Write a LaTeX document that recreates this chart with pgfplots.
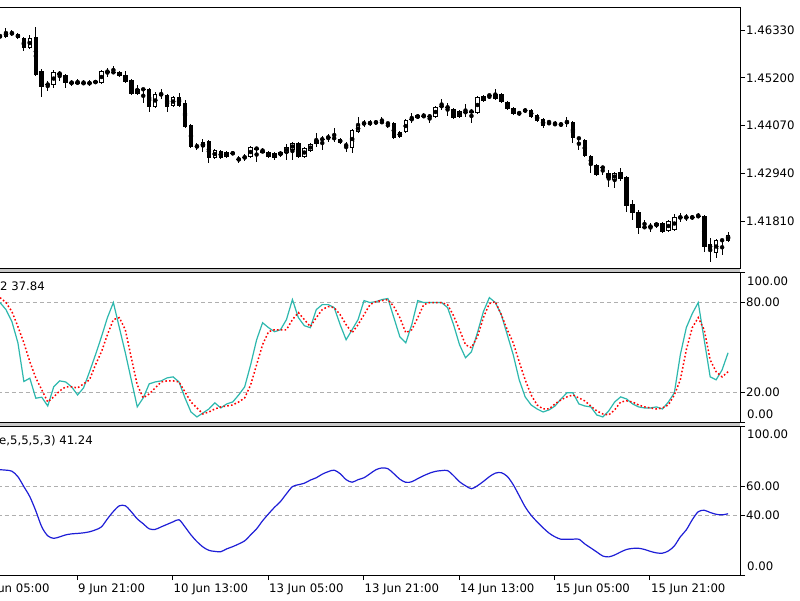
\documentclass[border=0pt]{standalone}
\usepackage{fontspec}
\setmainfont{DejaVu Sans}
\usepackage{pgfplots}
\usepackage{pgfplotstable}
\pgfplotsset{compat=1.18}

\definecolor{stochmain}{RGB}{45,184,174}
\definecolor{oscblue}{RGB}{30,30,215}
\definecolor{levelgray}{RGB}{175,175,175}
\definecolor{sepgray}{RGB}{200,200,200}
\newcommand{\lblfont}{\fontsize{11.7pt}{13pt}\selectfont}

% H1 bars: index, open, high, low, close
\pgfplotstableread{
j O H L C
0 1.46214 1.46285 1.46096 1.46143
1 1.46167 1.46380 1.46143 1.46285
2 1.46261 1.46332 1.46191 1.46238
3 1.46238 1.46261 1.46120 1.46143
4 1.46143 1.46167 1.45836 1.45907
5 1.45907 1.46214 1.45883 1.46143
6 1.46167 1.46403 1.45245 1.45268
7 1.45363 1.45410 1.44748 1.44985
8 1.45056 1.45127 1.44890 1.45032
9 1.45032 1.45387 1.44961 1.45339
10 1.45316 1.45363 1.45127 1.45292
11 1.45268 1.45292 1.44961 1.45079
12 1.45103 1.45150 1.45008 1.45079
13 1.45091 1.45174 1.45032 1.45079
14 1.45079 1.45150 1.45032 1.45068
15 1.45079 1.45150 1.45008 1.45068
16 1.45127 1.45150 1.45056 1.45079
17 1.45079 1.45387 1.45056 1.45363
18 1.45363 1.45434 1.45221 1.45339
19 1.45339 1.45481 1.45292 1.45328
20 1.45339 1.45363 1.45221 1.45245
21 1.45268 1.45363 1.45079 1.45103
22 1.45150 1.45174 1.44796 1.44819
23 1.44819 1.45032 1.44796 1.44938
24 1.44938 1.44949 1.44607 1.44926
25 1.44938 1.44961 1.44394 1.44512
26 1.44512 1.44867 1.44488 1.44819
27 1.44819 1.44938 1.44701 1.44796
28 1.44796 1.44819 1.44394 1.44512
29 1.44536 1.44772 1.44512 1.44748
30 1.44748 1.44843 1.44512 1.44536
31 1.44607 1.44678 1.44016 1.44039
32 1.44087 1.44110 1.43543 1.43566
33 1.43590 1.43661 1.43496 1.43578
34 1.43566 1.43756 1.43448 1.43685
35 1.43708 1.43732 1.43188 1.43306
36 1.43306 1.43519 1.43283 1.43496
37 1.43472 1.43496 1.43283 1.43306
38 1.43330 1.43472 1.43306 1.43448
39 1.43425 1.43436 1.43401 1.43413
40 1.43283 1.43354 1.43188 1.43271
41 1.43330 1.43401 1.43236 1.43318
42 1.43330 1.43590 1.43306 1.43566
43 1.43543 1.43566 1.43212 1.43519
44 1.43472 1.43543 1.43425 1.43448
45 1.43448 1.43472 1.43306 1.43330
46 1.43425 1.43448 1.43259 1.43306
47 1.43377 1.43472 1.43330 1.43448
48 1.43425 1.43637 1.43259 1.43566
49 1.43496 1.43685 1.43259 1.43661
50 1.43661 1.43685 1.43306 1.43330
51 1.43330 1.43566 1.43306 1.43543
52 1.43472 1.43661 1.43448 1.43637
53 1.43637 1.43897 1.43566 1.43732
54 1.43756 1.43826 1.43496 1.43744
55 1.43803 1.43874 1.43685 1.43791
56 1.43779 1.44016 1.43685 1.43767
57 1.43756 1.43779 1.43637 1.43661
58 1.43614 1.43685 1.43448 1.43602
59 1.43543 1.43992 1.43425 1.43968
60 1.43921 1.44276 1.43897 1.44087
61 1.44134 1.44205 1.44039 1.44122
62 1.44134 1.44205 1.44063 1.44122
63 1.44157 1.44205 1.44087 1.44146
64 1.44157 1.44276 1.44110 1.44146
65 1.44134 1.44146 1.44016 1.44122
66 1.44134 1.44157 1.43756 1.43779
67 1.43803 1.43945 1.43779 1.43921
68 1.43921 1.44228 1.43897 1.44205
69 1.44228 1.44370 1.44134 1.44217
70 1.44252 1.44347 1.44228 1.44323
71 1.44299 1.44370 1.44252 1.44288
72 1.44299 1.44347 1.44134 1.44288
73 1.44276 1.44536 1.44252 1.44512
74 1.44536 1.44701 1.44441 1.44524
75 1.44512 1.44607 1.44299 1.44500
76 1.44465 1.44488 1.44228 1.44252
77 1.44276 1.44441 1.44252 1.44418
78 1.44394 1.44583 1.44276 1.44382
79 1.44418 1.44465 1.44134 1.44394
80 1.44370 1.44772 1.44347 1.44748
81 1.44772 1.44796 1.44630 1.44654
82 1.44796 1.44808 1.44701 1.44784
83 1.44701 1.44938 1.44678 1.44819
84 1.44819 1.44843 1.44607 1.44630
85 1.44630 1.44654 1.44441 1.44465
86 1.44488 1.44512 1.44323 1.44347
87 1.44394 1.44418 1.44299 1.44347
88 1.44441 1.44488 1.44370 1.44418
89 1.44441 1.44465 1.44252 1.44276
90 1.44323 1.44347 1.44157 1.44181
91 1.44228 1.44252 1.44016 1.44063
92 1.44134 1.44205 1.44110 1.44122
93 1.44110 1.44181 1.44063 1.44098
94 1.44063 1.44157 1.44039 1.44134
95 1.44157 1.44276 1.44039 1.44146
96 1.44157 1.44181 1.43661 1.43779
97 1.43779 1.43791 1.43496 1.43767
98 1.43732 1.43756 1.43330 1.43354
99 1.43354 1.43377 1.42952 1.43141
100 1.43141 1.43165 1.42881 1.42905
101 1.43094 1.43117 1.42905 1.43070
102 1.42952 1.43023 1.42621 1.42834
103 1.42786 1.42975 1.42597 1.42952
104 1.42975 1.43070 1.42763 1.42810
105 1.42857 1.42881 1.42030 1.42172
106 1.42219 1.42314 1.41841 1.42006
107 1.42030 1.42077 1.41510 1.41652
108 1.41675 1.41841 1.41652 1.41663
109 1.41699 1.41770 1.41557 1.41675
110 1.41699 1.41793 1.41652 1.41770
111 1.41770 1.41793 1.41533 1.41557
112 1.41581 1.41841 1.41557 1.41817
113 1.41604 1.41983 1.41581 1.41912
114 1.41912 1.42006 1.41793 1.41900
115 1.41912 1.41983 1.41817 1.41900
116 1.41912 1.41959 1.41841 1.41900
117 1.41935 1.42006 1.41888 1.41923
118 1.41935 1.41959 1.41084 1.41202
119 1.41273 1.41415 1.40848 1.41155
120 1.41061 1.41392 1.40942 1.41368
121 1.41368 1.41380 1.41013 1.41356
122 1.41344 1.41557 1.41321 1.41486
}\candles

% stochastic: main (K) and signal (D)
\pgfplotstableread{
j K D
0 79.9 83.2
1 75.2 79.9
2 67.1 73.8
3 53.0 63.8
4 27.1 53.0
5 29.3 40.3
6 15.9 29.5
7 16.6 21.5
8 10.7 13.4
9 23.5 16.8
10 27.5 20.8
11 26.8 23.5
12 23.5 23.5
13 18.1 22.8
14 22.8 25.5
15 33.6 28.2
16 45.0 38.3
17 57.0 47.0
18 69.8 58.4
19 79.9 68.5
20 63.1 69.8
21 46.3 61.7
22 28.2 43.0
23 10.1 24.8
24 16.1 16.1
25 25.5 18.8
26 26.8 22.8
27 27.5 26.8
28 29.5 27.5
29 30.2 27.5
30 26.8 26.8
31 16.1 20.1
32 6.7 13.4
33 3.4 9.4
34 6.0 5.4
35 8.7 6.7
36 12.8 8.7
37 9.4 10.1
38 12.1 10.7
39 13.4 11.4
40 18.1 13.4
41 23.5 16.1
42 38.3 24.8
43 55.0 38.3
44 66.4 51.7
45 63.1 60.4
46 60.4 61.7
47 61.7 61.7
48 68.5 61.7
49 81.9 68.5
50 69.8 73.2
51 64.4 68.5
52 63.1 63.8
53 75.2 69.8
54 78.5 75.2
55 78.5 77.2
56 76.5 76.5
57 65.1 71.8
58 55.0 65.1
59 61.7 59.7
60 68.5 65.1
61 81.2 71.8
62 79.9 78.5
63 80.5 80.5
64 81.9 81.2
65 82.6 81.9
66 69.8 77.2
67 57.0 69.8
68 53.0 59.7
69 65.1 61.7
70 81.2 69.8
71 79.9 78.5
72 79.9 79.9
73 79.9 79.9
74 79.9 79.9
75 76.5 78.5
76 65.1 71.1
77 51.7 61.7
78 43.0 51.7
79 47.0 49.7
80 59.7 57.0
81 73.8 69.8
82 83.2 79.2
83 79.9 80.5
84 71.8 71.8
85 58.4 61.7
86 45.0 53.0
87 28.2 40.3
88 16.8 28.2
89 11.4 18.1
90 8.7 11.4
91 6.7 8.7
92 8.1 8.7
93 10.7 12.1
94 15.4 14.8
95 19.5 16.8
96 19.5 18.1
97 12.1 16.1
98 10.7 14.1
99 10.1 10.7
100 4.7 7.4
101 3.4 5.4
102 7.4 4.7
103 13.4 8.1
104 16.8 13.4
105 15.4 14.1
106 12.1 13.4
107 10.1 11.4
108 9.4 10.1
109 9.4 9.4
110 10.1 8.7
111 8.7 9.4
112 13.4 11.4
113 19.5 18.1
114 45.0 28.2
115 63.1 48.3
116 72.5 63.1
117 79.9 69.8
118 55.0 61.7
119 30.2 41.6
120 28.2 33.6
121 34.9 30.2
122 46.3 33.6
}\stoch

% lower oscillator
\pgfplotstableread{
j V
0 70.9
1 70.6
2 69.9
3 66.2
4 59.5
5 52.7
6 43.2
7 32.4
8 26.4
9 24.7
10 25.7
11 27.0
12 27.7
13 28.0
14 28.4
15 29.1
16 30.4
17 32.4
18 37.8
19 42.8
20 46.6
21 46.6
22 42.6
23 37.8
24 34.5
25 31.1
26 30.7
27 32.4
28 34.1
29 35.8
30 37.2
31 32.4
32 27.0
33 22.5
34 18.9
35 16.6
36 15.9
37 15.7
38 17.6
39 19.1
40 20.9
41 23.0
42 27.0
43 31.1
44 36.5
45 41.2
46 45.6
47 49.5
48 54.7
49 59.5
50 60.8
51 61.8
52 63.9
53 65.5
54 67.9
55 69.6
56 70.6
57 68.2
58 64.2
59 62.5
60 64.2
61 65.5
62 68.2
63 70.9
64 72.1
65 71.6
66 68.2
67 64.5
68 62.4
69 62.8
70 64.9
71 66.9
72 68.6
73 69.8
74 70.3
75 70.3
76 66.9
77 62.8
78 60.1
79 58.1
80 60.1
81 63.0
82 66.2
83 68.6
84 68.9
85 66.4
86 60.8
87 53.4
88 45.9
89 40.2
90 35.8
91 31.8
92 28.2
93 25.7
94 24.1
95 24.1
96 24.1
97 24.1
98 20.9
99 18.2
100 15.5
101 12.8
102 12.2
103 13.5
104 15.5
105 17.2
106 17.9
107 18.0
108 17.2
109 15.9
110 14.9
111 14.7
112 16.2
113 19.6
114 25.7
115 30.4
116 37.2
117 42.6
118 43.6
119 42.1
120 40.9
121 40.5
122 41.24
}\osc

\pgfplotsset{
  mtpanel/.style={
    scale only axis, anchor=south west, width=742pt,
    xmin=-0.335, xmax=124,
    axis line style={black, line width=0.8pt},
    tick style={black, line width=0.8pt},
    major tick length=5pt, tick align=outside,
    ytick pos=right, yticklabel pos=right,
    yticklabel style={font=\lblfont, anchor=west, inner sep=0pt, xshift=1pt},
    clip mode=individual,
  },
  levels/.style={
    ymajorgrids,
    major grid style={levelgray, dash pattern=on 4pt off 3pt, line width=0.8pt},
    extra y ticks={0,100}, extra y tick labels={},
    extra y tick style={grid=none},
  },
}

\begin{document}
\begin{tikzpicture}
\fill[white] (0,0) rectangle (800pt,600pt);
\fill[sepgray] (-2pt,327.5pt) rectangle (740pt,331.5pt);
\fill[sepgray] (-2pt,173.5pt) rectangle (740pt,178pt);

% price panel
\begin{axis}[mtpanel, at={(-2pt,331.5pt)}, height=261.5pt,
  ymin=1.40694, ymax=1.46876, xtick=\empty,
  ytick={1.4181,1.4294,1.4407,1.452,1.4633},
  yticklabels={1.41810,1.42940,1.44070,1.45200,1.46330}]
\addplot [only marks, mark=none, error bars/.cd, y dir=both, y explicit,
  error mark=none, error bar style={black, line width=1pt}]
  table [x=j, y expr={(\thisrow{H}+\thisrow{L})/2},
         y error expr={(\thisrow{H}-\thisrow{L})/2}] {\candles};
\addplot [only marks, mark=none, error bars/.cd, y dir=both, y explicit,
  error mark=none, error bar style={black, line width=4.6pt}]
  table [x=j, y expr={(\thisrow{O}+\thisrow{C})/2},
         y error expr={max(abs(\thisrow{C}-\thisrow{O})/2,0.00012)}] {\candles};
\addplot [only marks, mark=none,
  restrict expr to domain={\thisrow{C}-\thisrow{O}}{0.0005:1},
  error bars/.cd, y dir=both, y explicit,
  error mark=none, error bar style={white, line width=2.6pt}]
  table [x=j, y expr={(\thisrow{O}+\thisrow{C})/2},
         y error expr={(\thisrow{C}-\thisrow{O})/2-0.00024}] {\candles};
\end{axis}

% stochastic panel
\begin{axis}[mtpanel, levels, at={(-2pt,178pt)}, height=149.5pt,
  ymin=0, ymax=100, xtick=\empty,
  ytick={20,80}, yticklabels={20.00,80.00}]
\addplot [stochmain, line width=1.2pt, mark=none] table [x=j, y=K] {\stoch};
\addplot [red, line width=1.5pt, dash pattern=on 1.6pt off 2.2pt, mark=none]
  table [x=j, y=D] {\stoch};
\node[font=\lblfont, anchor=west, inner sep=0pt, xshift=7pt, yshift=-8.5pt]
  at (rel axis cs:1,1) {100.00};
\node[font=\lblfont, anchor=west, inner sep=0pt, xshift=7pt, yshift=8pt]
  at (rel axis cs:1,0) {0.00};
\end{axis}

% lower oscillator panel
\begin{axis}[mtpanel, levels, at={(-2pt,25pt)}, height=148.5pt,
  ymin=0, ymax=100,
  ytick={40,60}, yticklabels={40.00,60.00},
  xtick pos=bottom, xticklabel pos=bottom,
  xtick={12.9,28.9,44.9,60.9,76.9,92.9,108.9},
  xticklabels={9 Jun 21:00,10 Jun 13:00,13 Jun 05:00,13 Jun 21:00,14 Jun 13:00,15 Jun 05:00,15 Jun 21:00},
  xticklabel style={font=\lblfont, anchor=north west, inner sep=0pt, xshift=1pt, yshift=-3.5pt}]
\addplot [oscblue, line width=1.2pt, mark=none, smooth] table [x=j, y=V] {\osc};
\node[font=\lblfont, anchor=west, inner sep=0pt, xshift=7pt, yshift=-7.5pt]
  at (rel axis cs:1,1) {100.00};
\node[font=\lblfont, anchor=west, inner sep=0pt, xshift=7pt, yshift=9pt]
  at (rel axis cs:1,0) {0.00};
\end{axis}

\node[font=\lblfont, anchor=west, inner sep=0pt] at (0pt,313.5pt) {2 37.84};
\node[font=\lblfont, anchor=west, inner sep=0pt] at (-1pt,159.3pt) {e,5,5,5,3) 41.24};
\node[font=\lblfont, anchor=north west, inner sep=0pt] at (-17.5pt,16.5pt) {9 Jun 05:00};

\pgfresetboundingbox
\useasboundingbox (0,0) rectangle (800pt,600pt);
\end{tikzpicture}
\end{document}
